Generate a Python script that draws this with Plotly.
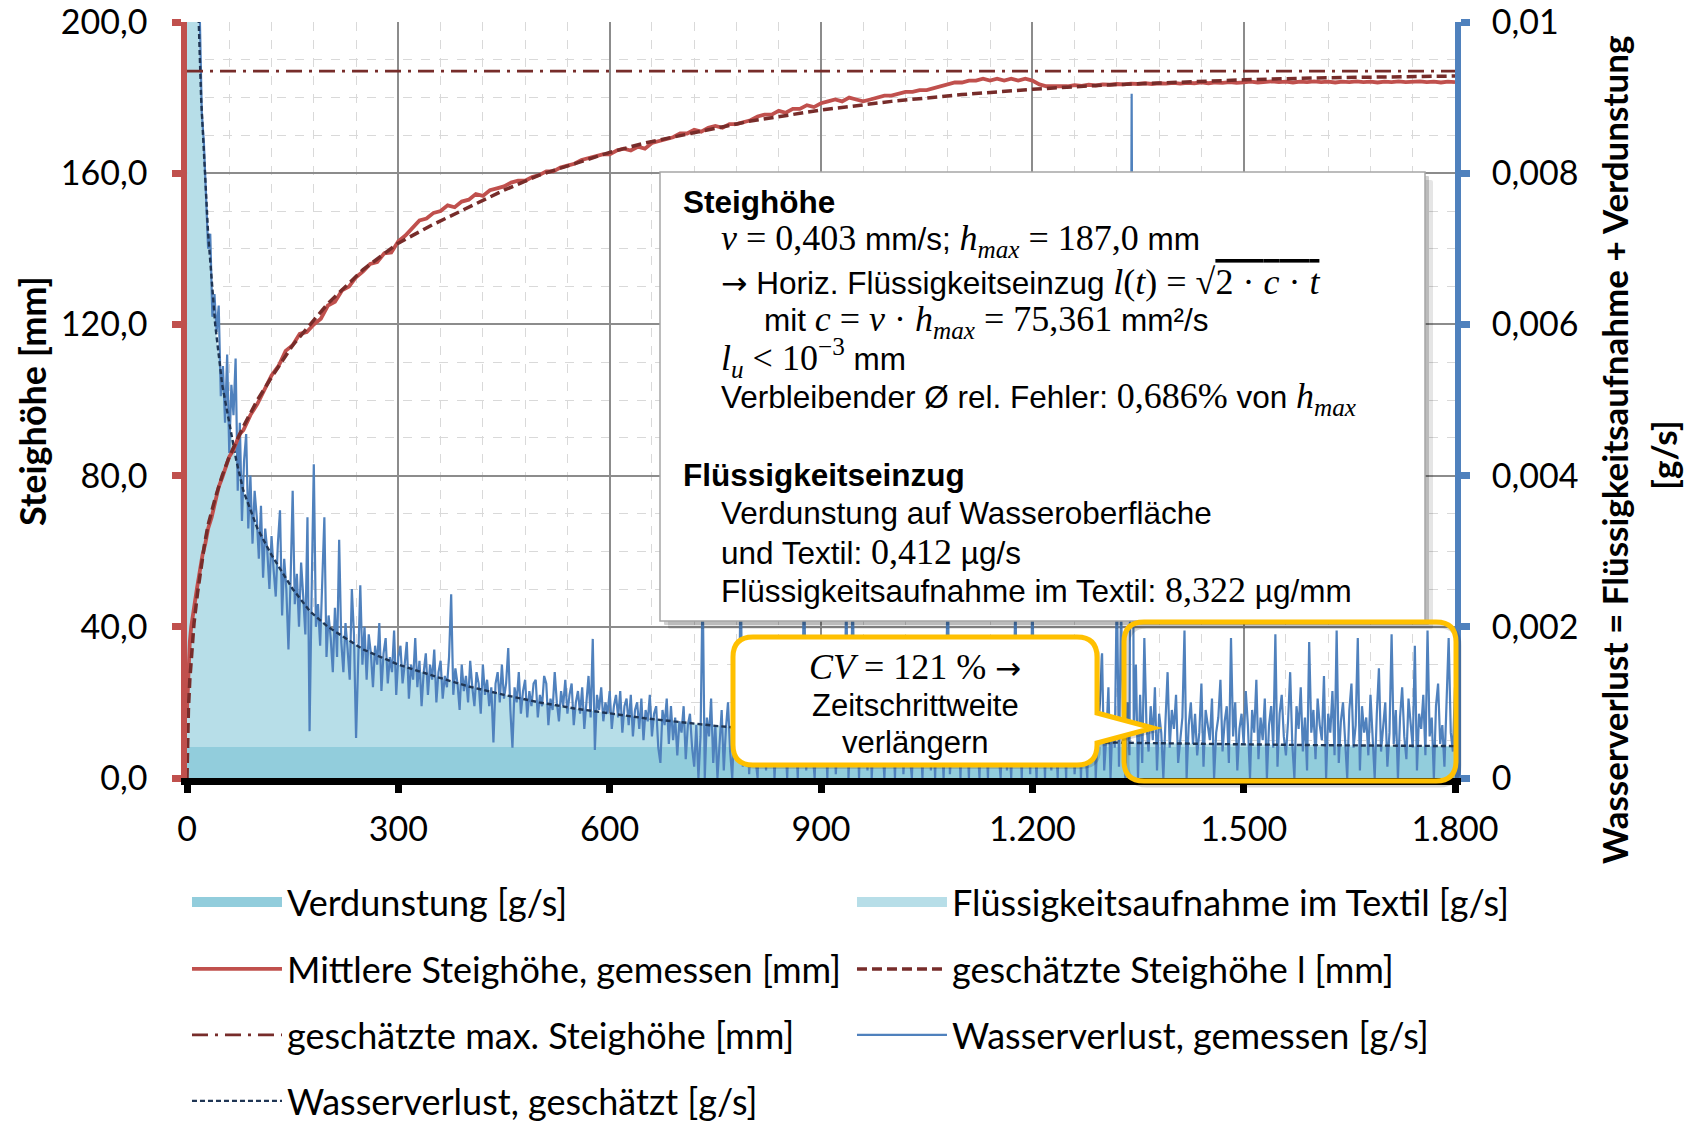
import plotly.graph_objects as go

# ---------------- data ----------------
# Mittlere Steighöhe, gemessen [mm]: Anfang (unregelmäßige Zeitpunkte), danach alle 10 s ab t = 100 s
t_rise_meas_early = [0, 2, 4, 6, 8, 10, 14, 18, 22, 26, 30, 35, 40, 45, 50, 55, 60, 65, 70, 75, 80, 85, 90]
h_rise_meas_early = [18, 30, 36, 40, 42, 45, 50, 55, 59, 62, 66, 69, 73, 77, 79.5, 82, 85, 86.5, 89, 91, 92, 94, 96]
rise_meas_t0 = 100
rise_meas_dt = 10
h_rise_meas_late = [
    99, 103, 106.5, 109, 113, 114.5, 117.5, 118, 120, 121.5,
    125, 126, 129, 130, 132.5, 134, 136, 136.5, 138.8, 139,
    142, 143.5, 145.5, 147.5, 148, 149.5, 150, 151.5, 151, 152.5,
    153, 154.5, 154, 155.5, 156, 156.5, 157.5, 158, 158, 159,
    159.5, 160.5, 160.5, 161.5, 162, 162.5, 163.5, 164, 164.5, 165,
    165, 166, 166.5, 166, 167, 166.5, 168, 168.5, 169, 169.5,
    170.5, 170.5, 171.5, 171, 172, 172.5, 172, 173, 173, 173.5,
    174, 175, 175.5, 175.5, 176.5, 176, 177, 177, 178, 177.5,
    178.5, 179, 179.5, 179, 180, 179.5, 179, 179.5, 180, 180.5,
    180.5, 181, 181.5, 181.5, 182, 182, 182.5, 183, 183.5, 184,
    184, 184.5, 184.5, 185, 184.5, 185, 184.5, 185, 184.5, 185,
    184.5, 183.5, 183, 183, 183.2, 183, 183.3, 183.1, 183.4, 183.2,
    183.5, 183.4, 183.6, 183.5, 183.7, 183.6, 183.8, 183.6, 183.8, 183.7,
    183.9, 183.7, 183.9, 183.8, 184, 183.8, 184, 183.9, 184.1, 183.9,
    184, 184.2, 184, 184.1, 184.3, 184.1, 184.2, 184, 184.2, 184.1,
    184.3, 184.1, 184.2, 184, 184.2, 184.1, 184.3, 184.1, 184.2, 184,
    184.2, 184.1, 184.3, 184.1, 184.2, 184.3, 184.1, 184.2, 184, 184.2,
    184.1]

# geschätzte Steighöhe l [mm]
t_rise_est = [0, 1, 2, 4, 6, 8, 10, 15, 20, 25,
              30, 40, 50, 60, 70, 80, 100, 120, 150, 180,
              200, 250, 300, 350, 400, 450, 500, 550, 600, 650,
              700, 750, 800, 900, 1000, 1100, 1200, 1300, 1400, 1500,
              1600, 1700, 1800]
h_rise_est = [0, 12, 18, 26, 32, 37, 41, 49, 56, 62,
              67, 74, 80, 85, 89, 93, 100, 106, 114.5, 121,
              125.5, 134.5, 141.5, 146.5, 151, 155.5, 159.5, 162.5, 165.5, 168,
              170, 172, 173.8, 176.7, 179, 180.8, 182.2, 183.3, 184.1, 184.7,
              185.2, 185.5, 185.7]

# geschätzte max. Steighöhe [mm]
t_hmax = [0, 1800]
h_hmax = [187.0, 187.0]

# Verdunstung [g/s]
t_evap = [0, 1800]
evap_gs = [0.00041, 0.00041]

# Wasserverlust, geschätzt (Einheit 1e-5 g/s)
t_loss_est = [0.5, 1, 5, 10, 15, 20, 25, 30, 40, 50,
              60, 70, 80, 100, 120, 150, 175, 200, 250, 300,
              350, 400, 450, 500, 550, 600, 650, 700, 750, 800,
              900, 1000, 1100, 1200, 1300, 1400, 1500, 1600, 1700, 1800]
loss_est_1e5 = [6000, 4000, 1900, 1300, 1050, 900, 800, 720, 600, 520,
                470, 420, 380, 330, 295, 250, 220, 200, 170, 150,
                135, 121, 110, 100, 92, 85, 79, 74, 69, 65,
                59, 55, 52, 49.5, 47, 45.5, 44.5, 43.5, 42.8, 42.2]

# Wasserverlust, gemessen: Abtastung alle 3 s ab t = 15 s (Einheit 1e-5 g/s), 20 Werte je Zeile
loss_meas_t0 = 15
loss_meas_dt = 3
loss_meas_1e5 = [
    1150, 1000, 880, 840, 770, 700, 720, 610, 640, 590, 625, 505, 545, 470, 560, 430, 520, 480, 555, 380,
    470, 340, 420, 455, 330, 400, 310, 380, 345, 290, 360, 265, 330, 300, 250, 320, 275, 240, 310, 354,
    215, 290, 250, 170, 260, 380, 230, 270, 200, 285, 240, 190, 345, 62, 250, 415, 200, 230, 175, 260,
    345, 160, 215, 185, 140, 225, 160, 315, 180, 140, 205, 170, 130, 250, 190, 53, 175, 255, 150, 200,
    130, 190, 165, 120, 175, 150, 205, 115, 165, 185, 125, 160, 140, 195, 110, 160, 175, 125, 150, 180,
    105, 150, 130, 185, 120, 155, 95, 140, 165, 110, 150, 130, 170, 100, 140, 155, 105, 135, 120, 160,
    243, 110, 145, 125, 90, 150, 115, 135, 100, 155, 120, 95, 140, 125, 85, 150, 110, 130, 95, 120,
    47, 125, 140, 100, 150, 105, 125, 172, 90, 40, 120, 100, 140, 85, 115, 130, 80, 115, 95, 125,
    130, 80, 110, 95, 135, 125, 70, 105, 90, 140, 100, 75, 115, 95, 130, 85, 110, 125, 70, 100,
    115, 85, 120, 65, 100, 135, 80, 184, 37, 110, 90, 120, 75, 100, 85, 115, 65, 95, 110, 80,
    115, 60, 95, 105, 70, 110, 55, 90, 100, 65, 105, 50, 90, 75, 110, 55, 85, 95, 40, 20,
    90, 70, 105, 45, 95, 50, 80, 30, 75, 60, 95, 25, 70, 85, 40, 15, 70, 0, 55, 260,
    0, 80, 55, 105, 20, 70, 0, 45, 90, 10, 65, 100, 35, 0, 75, 120, 30, 280, 15, 70,
    105, 5, 60, 90, 25, 0, 110, 50, 75, 10, 130, 40, 85, 0, 65, 115, 20, 95, 55, 0,
    80, 120, 30, 65, 0, 100, 45, 290, 10, 75, 125, 35, 0, 90, 55, 110, 15, 70, 0, 95,
    40, 120, 5, 60, 100, 25, 80, 250, 0, 65, 265, 30, 90, 0, 115, 50, 75, 10, 105, 0,
    60, 95, 20, 130, 45, 0, 80, 110, 15, 70, 0, 100, 40, 125, 5, 65, 90, 30, 0, 85,
    110, 20, 60, 0, 95, 45, 120, 10, 75, 0, 105, 35, 65, 0, 90, 270, 5, 55, 115, 25,
    80, 0, 100, 40, 65, 0, 125, 20, 85, 50, 0, 110, 30, 70, 0, 95, 15, 60, 120, 35,
    0, 80, 105, 10, 55, 0, 90, 240, 25, 70, 0, 115, 40, 85, 5, 255, 60, 0, 100, 30,
    75, 0, 120, 45, 10, 90, 60, 0, 105, 25, 70, 0, 135, 35, 80, 5, 60, 110, 0, 85,
    40, 0, 120, 20, 140, 0, 65, 100, 165, 10, 55, 120, 0, 80, 40, 260, 15, 230, 60, 0,
    100, 30, 905, 60, 150, 0, 110, 20, 185, 70, 35, 95, 50, 120, 10, 85, 60, 0, 75, 140,
    40, 90, 65, 110, 20, 55, 80, 195, 0, 70, 100, 45, 85, 30, 60, 125, 15, 90, 70, 50,
    105, 0, 60, 80, 130, 35, 75, 95, 20, 185, 55, 100, 10, 65, 85, 45, 115, 70, 0, 90,
    60, 130, 25, 80, 50, 105, 0, 70, 95, 40, 190, 15, 85, 110, 55, 30, 75, 140, 45, 0,
    95, 65, 120, 35, 80, 10, 180, 60, 90, 25, 105, 70, 50, 135, 0, 85, 60, 115, 30, 195,
    20, 75, 100, 55, 0, 90, 125, 40, 70, 185, 10, 95, 60, 80, 30, 110, 50, 0, 85, 145,
    35, 70, 100, 15, 60, 190, 45, 90, 0, 80, 120, 55, 25, 105, 70, 40, 175, 10, 85, 65,
    110, 30, 195, 55, 80, 0, 95, 125, 45, 70, 15, 100, 185, 60, 35, 120]

# Achsenbeschriftungen
x_tickvals = [0, 300, 600, 900, 1200, 1500, 1800]
x_ticktext = ["0", "300", "600", "900", "1.200", "1.500", "1.800"]
y_tickvals = [0, 40, 80, 120, 160, 200]
y_ticktext = ["0,0", "40,0", "80,0", "120,0", "160,0", "200,0"]
y2_tickvals = [0, 0.002, 0.004, 0.006, 0.008, 0.01]
y2_ticktext = ["0", "0,002", "0,004", "0,006", "0,008", "0,01"]

# ---------------- derived series (unit conversion / time stamps only) ----------------
loss_est_gs = [v * 1e-5 for v in loss_est_1e5]
loss_meas_gs = [v * 1e-5 for v in loss_meas_1e5]
t_loss_meas = [loss_meas_t0 + loss_meas_dt * i for i in range(len(loss_meas_1e5))]
t_rise_meas = t_rise_meas_early + [rise_meas_t0 + rise_meas_dt * i for i in range(len(h_rise_meas_late))]
h_rise_meas = h_rise_meas_early + h_rise_meas_late

# ---------------- layout geometry ----------------
W, H = 1689, 1122
L, R, T, B = 187, 1455, 22, 778
PW, PH = R - L, B - T


def px(x):
    return (x - L) / PW


def py(y):
    return (B - y) / PH


def P(x, y):
    return f"{px(x):.5f},{py(y):.5f}"


def rounded_path(x0, y0, x1, y1, r, pointer=None):
    s = f"M{P(x0 + r, y0)} L{P(x1 - r, y0)} Q{P(x1, y0)} {P(x1, y0 + r)} "
    if pointer:
        (ya, tipx, tipy, yb) = pointer
        s += f"L{P(x1, ya)} L{P(tipx, tipy)} L{P(x1, yb)} "
    s += (f"L{P(x1, y1 - r)} Q{P(x1, y1)} {P(x1 - r, y1)} L{P(x0 + r, y1)} "
          f"Q{P(x0, y1)} {P(x0, y1 - r)} L{P(x0, y0 + r)} Q{P(x0, y0)} {P(x0 + r, y0)} Z")
    return s


RED = "#C0504D"
DRED = "#772C2A"
BLUE = "#4F81BD"
NAVY = "#1F3554"
EVAP = "#92CDDC"
TEXT_FILL = "#B7DEE8"
YEL = "#FFC000"

fig = go.Figure()

# g/s series on the base axis "y" (drawn first, right side); mm series on overlay "y2" (left side, on top)
fig.add_trace(go.Scatter(x=t_evap, y=evap_gs, yaxis="y", mode="lines", line=dict(width=0, color=EVAP),
                         fill="tozeroy", fillcolor=EVAP, name="Verdunstung [g/s]",
                         showlegend=False, hoverinfo="skip"))
fig.add_trace(go.Scatter(x=t_loss_est, y=loss_est_gs, yaxis="y", mode="lines", line=dict(width=0, color=TEXT_FILL),
                         fill="tonexty", fillcolor=TEXT_FILL, name="Flüssigkeitsaufnahme im Textil [g/s]",
                         showlegend=False, hoverinfo="skip"))
fig.add_trace(go.Scatter(x=t_loss_meas, y=loss_meas_gs, yaxis="y", mode="lines",
                         line=dict(width=2.2, color=BLUE), name="Wasserverlust, gemessen [g/s]",
                         legend="legend3", legendrank=2))
fig.add_trace(go.Scatter(x=t_loss_est, y=loss_est_gs, yaxis="y", mode="lines",
                         line=dict(width=2.4, color=NAVY, dash="5px,3px"), name="Wasserverlust, geschätzt [g/s]",
                         legend="legend4", legendrank=1))
fig.add_trace(go.Scatter(x=t_rise_meas, y=h_rise_meas, yaxis="y2", mode="lines",
                         line=dict(width=3.8, color=RED), name="Mittlere Steighöhe, gemessen [mm]",
                         legend="legend2", legendrank=1))
fig.add_trace(go.Scatter(x=t_rise_est, y=h_rise_est, yaxis="y2", mode="lines",
                         line=dict(width=3.5, color=DRED, dash="10px,5px"), name="geschätzte Steighöhe l [mm]",
                         legend="legend2", legendrank=2))
fig.add_trace(go.Scatter(x=t_hmax, y=h_hmax, yaxis="y2", mode="lines",
                         line=dict(width=2.8, color=DRED, dash="16px,7px,3px,7px"),
                         name="geschätzte max. Steighöhe [mm]", legend="legend3", legendrank=1))
# legend swatches for the two area series
fig.add_trace(go.Scatter(x=[None], y=[None], yaxis="y", mode="lines", line=dict(width=23, color=EVAP),
                         name="Verdunstung [g/s]", legend="legend", legendrank=1))
fig.add_trace(go.Scatter(x=[None], y=[None], yaxis="y", mode="lines", line=dict(width=23, color=TEXT_FILL),
                         name="Flüssigkeitsaufnahme im Textil [g/s]", legend="legend", legendrank=2))

TICKFONT = dict(family="Lato", size=34, color="black")
GRID = "#8C8C8C"
MINOR = "#D9D9D9"

fig.update_layout(
    width=W, height=H,
    margin=dict(l=L, r=W - R, t=T, b=H - B, autoexpand=False),
    paper_bgcolor="white", plot_bgcolor="white",
    font=dict(family="Lato", size=34, color="black"),
    separators=",.",
    showlegend=True,
    xaxis=dict(range=[0, 1800], tickvals=x_tickvals, ticktext=x_ticktext, tickfont=TICKFONT,
               showline=True, linecolor="black", linewidth=6.5, ticks="outside", ticklen=8,
               tickwidth=6.5, tickcolor="black", showgrid=True, gridcolor=GRID, gridwidth=1.6,
               zeroline=False, ticklabelstandoff=7, ticklabeloverflow="allow",
               minor=dict(dtick=60, tick0=0, showgrid=True, gridcolor=MINOR, gridwidth=1, griddash="dash")),
    yaxis=dict(range=[0, 0.01], side="right", tickvals=y2_tickvals, ticktext=y2_ticktext,
               tickfont=TICKFONT, showline=True, linecolor=BLUE, linewidth=6, ticks="outside", ticklen=9,
               tickwidth=6.5, tickcolor=BLUE, showgrid=False, zeroline=False, ticklabelstandoff=15,
               ticklabeloverflow="allow"),
    yaxis2=dict(range=[0, 200], overlaying="y", side="left", tickvals=y_tickvals, ticktext=y_ticktext,
                tickfont=TICKFONT, showline=True, linecolor=RED, linewidth=5.5, ticks="outside", ticklen=9,
                tickwidth=6.5, tickcolor=RED, showgrid=True, gridcolor=GRID, gridwidth=1.6,
                zeroline=False, ticklabelstandoff=18, ticklabeloverflow="allow",
                minor=dict(dtick=10, tick0=0, showgrid=True, gridcolor=MINOR, gridwidth=1, griddash="dash")),
)

# x slightly below 0 so that the horizontal legends may use the left margin as width as well
LEG = dict(orientation="h", xanchor="left", yanchor="middle", x=-0.00001,
           font=dict(family="Lato", size=36, color="black"),
           entrywidth=560, entrywidthmode="pixels", itemwidth=90, bgcolor="rgba(0,0,0,0)",
           traceorder="normal", itemclick=False, itemdoubleclick=False)
fig.update_layout(
    legend=dict(LEG, y=py(902)),
    legend2=dict(LEG, y=py(969)),
    legend3=dict(LEG, y=py(1035)),
    legend4=dict(LEG, y=py(1101)),
)

# ---------------- shapes (text box, callout, highlight) ----------------
shapes = []
shapes.append(dict(type="path", xref="paper", yref="paper", layer="above",
                   path=rounded_path(668, 180, 1433, 629, 2), fillcolor="rgba(0,0,0,0.10)", line=dict(width=0)))
shapes.append(dict(type="path", xref="paper", yref="paper", layer="above",
                   path=rounded_path(664, 176, 1429, 625, 1), fillcolor="rgba(0,0,0,0.18)", line=dict(width=0)))
shapes.append(dict(type="rect", xref="paper", yref="paper", layer="above",
                   x0=px(660), x1=px(1425), y0=py(621), y1=py(172), fillcolor="white",
                   line=dict(color="#A6A6A6", width=1.5)))
shapes.append(dict(type="path", xref="paper", yref="paper", layer="above",
                   path=rounded_path(1127, 626, 1459, 785, 20), fillcolor="rgba(0,0,0,0)",
                   line=dict(color="rgba(0,0,0,0.15)", width=5)))
shapes.append(dict(type="path", xref="paper", yref="paper", layer="above",
                   path=rounded_path(1124, 622, 1456, 781, 20), fillcolor="rgba(0,0,0,0)",
                   line=dict(color=YEL, width=5)))
shapes.append(dict(type="path", xref="paper", yref="paper", layer="above",
                   path=rounded_path(737, 641, 1101, 769, 20, pointer=(717, 1157, 732, 747)),
                   fillcolor="rgba(0,0,0,0.15)", line=dict(width=0)))
shapes.append(dict(type="path", xref="paper", yref="paper", layer="above",
                   path=rounded_path(733, 637, 1097, 765, 20, pointer=(713, 1153, 728, 743)),
                   fillcolor="white", line=dict(color=YEL, width=5)))
fig.update_layout(shapes=shapes)

# ---------------- annotations ----------------
SANS = "Liberation Sans"
SER = "Liberation Serif"
ARROW = '<span style="font-family:DejaVu Sans">→</span>'


def m(s):
    return f'<span style="font-family:{SER};font-size:36px">{s}</span>'


box_lines = [
    (681, 202, "<b>Steighöhe</b>"),
    (719, 240, m("<i>v</i> = 0,403") + " mm/s; " + m("<i>h</i><sub><i>max</i></sub> = 187,0") + " mm"),
    (719, 282, ARROW + " Horiz. Flüssigkeitseinzug " +
     m('<i>l</i>(<i>t</i>) = √<span style="text-decoration:overline">2 · <i>c</i> · <i>t</i></span>')),
    (762, 321, "mit " + m("<i>c</i> = <i>v</i> · <i>h</i><sub><i>max</i></sub> = 75,361") + " mm²/s"),
    (719, 358, m("<i>l</i><sub><i>u</i></sub> &lt; 10<sup>−3</sup>") + " mm"),
    (719, 398, "Verbleibender Ø rel. Fehler: " + m("0,686%") + " von " + m("<i>h</i><sub><i>max</i></sub>")),
    (681, 475, "<b>Flüssigkeitseinzug</b>"),
    (719, 513, "Verdunstung auf Wasseroberfläche"),
    (719, 552, "und Textil: " + m("0,412") + " µg/s"),
    (719, 590, "Flüssigkeitsaufnahme im Textil: " + m("8,322") + " µg/mm"),
]
ann = []
for (x, y, txt) in box_lines:
    ann.append(dict(x=px(x), y=py(y), xref="paper", yref="paper", xanchor="left", yanchor="middle",
                    text=txt, showarrow=False, font=dict(family=SANS, size=31.5, color="black")))

callout_lines = [(667, m("<i>CV</i> = 121 %") + " " + ARROW), (705, "Zeitschrittweite"), (742, "verlängern")]
for (y, txt) in callout_lines:
    ann.append(dict(x=px(915), y=py(y), xref="paper", yref="paper", xanchor="center", yanchor="middle",
                    text=txt, showarrow=False, font=dict(family=SANS, size=31, color="black")))

ann.append(dict(x=px(32), y=py(401), xref="paper", yref="paper", xanchor="center", yanchor="middle",
                text="<b>Steighöhe [mm]</b>", textangle=-90, showarrow=False,
                font=dict(family="Lato", size=36, color="black")))
ann.append(dict(x=px(1614), y=py(450), xref="paper", yref="paper", xanchor="center", yanchor="middle",
                text="<b>Wasserverlust = Flüssigkeitsaufnahme + Verdunstung</b>", textangle=-90, showarrow=False,
                font=dict(family="Lato", size=35, color="black")))
ann.append(dict(x=px(1663), y=py(455), xref="paper", yref="paper", xanchor="center", yanchor="middle",
                text="<b>[g/s]</b>", textangle=-90, showarrow=False,
                font=dict(family="Lato", size=35, color="black")))
fig.update_layout(annotations=ann)

fig.write_html("out.html", config={"displayModeBar": False})
